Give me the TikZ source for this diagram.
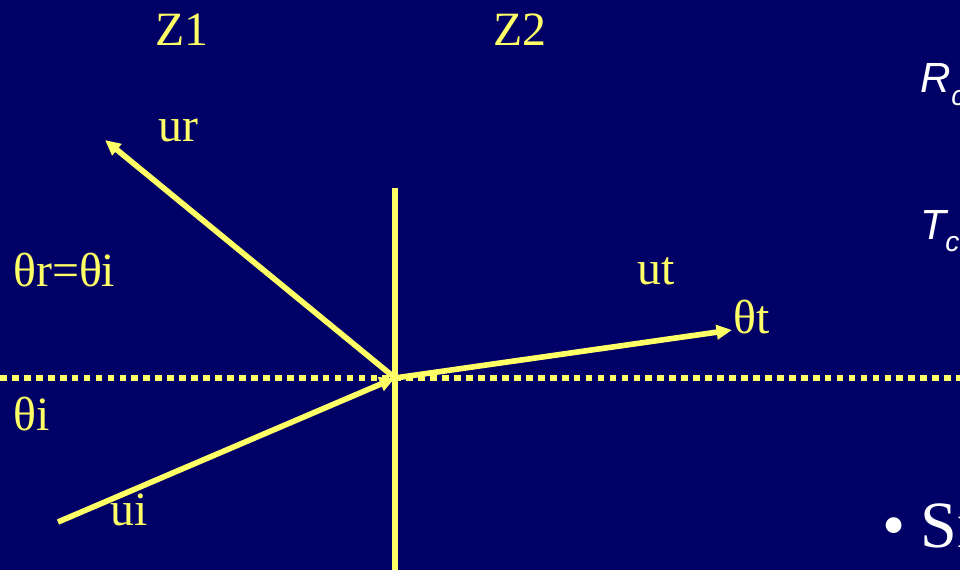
\documentclass[tikz,border=0pt]{standalone}
\usepackage{fontspec}
\setmainfont{Liberation Serif}
\newfontfamily\sidesans{Liberation Sans}
\usetikzlibrary{arrows.meta}
\definecolor{SlideBlue}{HTML}{000066}
\definecolor{RayYellow}{HTML}{FFFF66}

\tikzset{
  ray/.style={line width=4pt, RayYellow, -{Triangle[length=11pt, width=10pt]}},
  lbl/.style={anchor=base west, inner sep=0pt, text=RayYellow, font=\fontsize{34}{40}\selectfont},
  sidelbl/.style={anchor=base west, inner sep=0pt, text=white, font=\sidesans\itshape\fontsize{30}{36}\selectfont},
  sidesub/.style={anchor=base west, inner sep=0pt, text=white, font=\sidesans\itshape\fontsize{20}{24}\selectfont},
}

\begin{document}
\begin{tikzpicture}[x=0.025cm, y=-0.025cm]
  \fill[SlideBlue] (0,0) rectangle (960,570);
  \clip (0,0) rectangle (960,570);
  % --- Interface and normal ---
  \coordinate (O) at (395,378);
  \coordinate (wallTop) at (395,188);
  \coordinate (wallBot) at (395,570);
  \coordinate (normL) at (0,378);
  \coordinate (normR) at (960,378);
  \draw[line width=4.6pt, RayYellow, dash pattern=on 4.8pt off 3.7pt] (normL) -- (normR);
  \draw[line width=4.2pt, RayYellow] (wallTop) -- (wallBot);
  % --- Rays ---
  \coordinate (src) at (58,522);
  \coordinate (refl) at (105,140);
  \coordinate (trans) at (732,330);
  \draw[ray] (src) -- (O);
  \draw[ray] (O) -- (refl);
  \draw[ray] (O) -- (trans);
  % --- Labels ---
  \node[lbl] (z1) at (155,46) {Z1};
  \node[lbl] (z2) at (493,46) {Z2};
  \node[lbl] (ur) at (158,142) {ur};
  \node[lbl] (thr) at (13,287) {θr=θi};
  \node[lbl] (thi) at (13,430) {θi};
  \node[lbl] (ui) at (110,525) {ui};
  \node[lbl] (ut) at (637,285) {ut};
  \node[lbl] (tht) at (733,333) {θt};
  % --- Right margin text ---
  \node[sidelbl] (rc) at (920,93) {R};
  \node[sidesub] (rcsub) at (951,106) {c};
  \node[sidelbl] (tc) at (920,240) {T};
  \node[sidesub] (tcsub) at (945,252) {c};
  \node[anchor=base west, inner sep=0pt, text=white, font=\fontsize{47}{56}\selectfont] (bul) at (882,547) {•};
  \node[anchor=base west, inner sep=0pt, text=white, font=\fontsize{47}{56}\selectfont] (sn) at (920,547) {Sn};
\end{tikzpicture}
\end{document}
